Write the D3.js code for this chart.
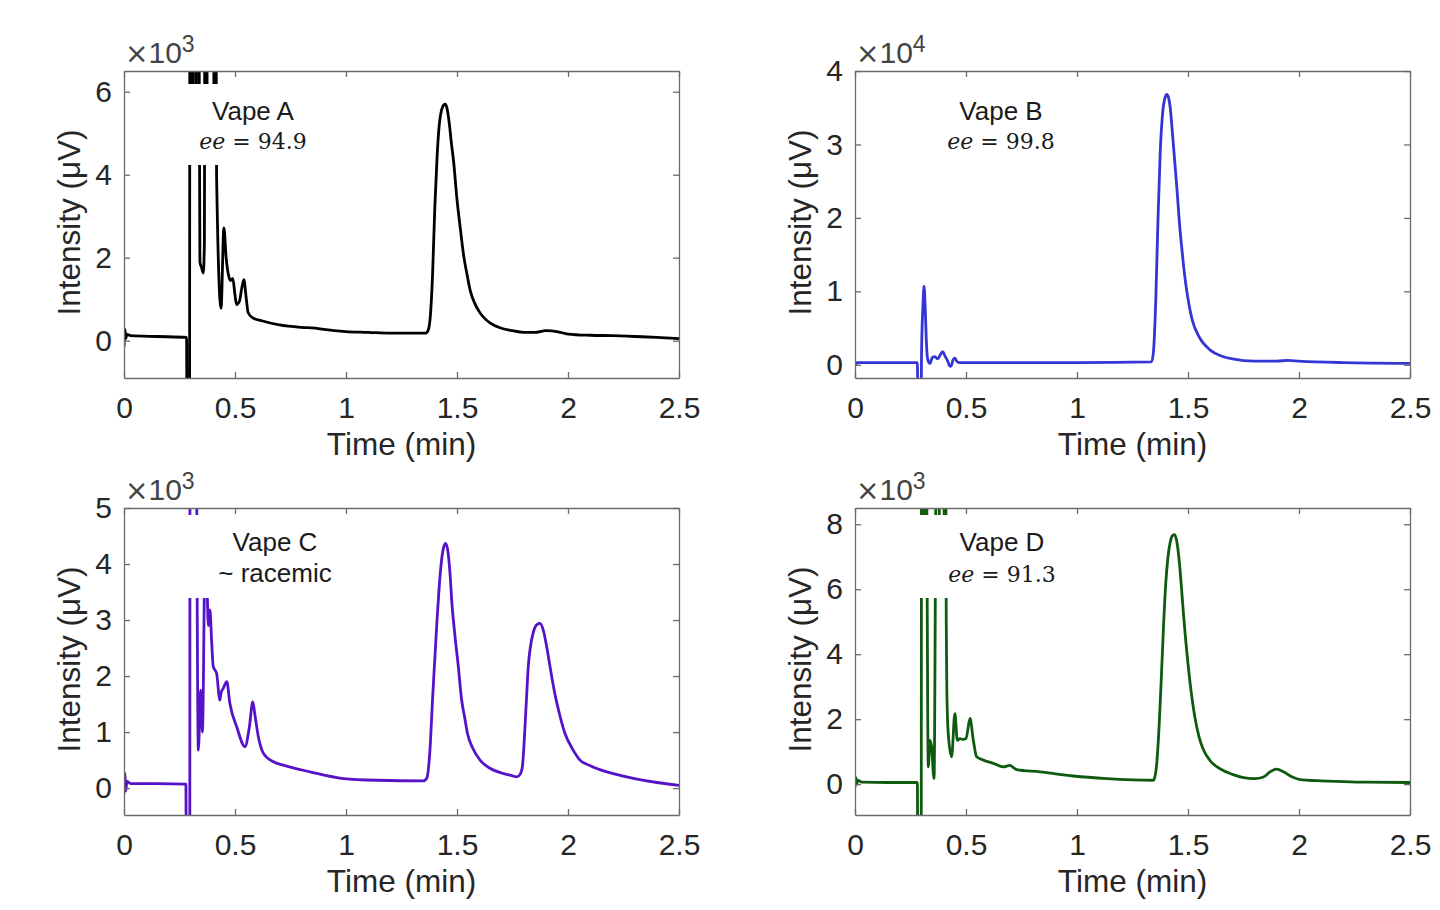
<!DOCTYPE html>
<html><head><meta charset="utf-8">
<script src="https://cdn.jsdelivr.net/npm/d3@7"></script>
<style>
body{margin:0;background:#fff;}
svg text{font-family:"Liberation Sans",Arial,Helvetica,sans-serif;}
</style>
</head><body>
<svg id="c" width="1440" height="910"></svg>
<script>
// ---------- data ----------
const xTicks = [0, 0.5, 1, 1.5, 2, 2.5];
const xTickLabels = ["0", "0.5", "1", "1.5", "2", "2.5"];

const yTicksA = [0, 2, 4, 6];
const yTicksB = [0, 1, 2, 3, 4];
const yTicksC = [0, 1, 2, 3, 4, 5];
const yTicksD = [0, 2, 4, 6, 8];

// Vape A (x10^3 µV)
const vapeA_t = [0,0.004,0.008,0.013,0.03,0.15,0.282,0.284,0.295,0.297,0.303,0.306,0.31,0.313,0.322,0.325,0.329,0.335,0.342,0.35,0.357,0.362,0.365,0.372,0.375,0.404,0.407,0.412,0.417,0.437,0.45,0.46,0.47,0.48,0.49,0.5,0.507,0.52,0.53,0.54,0.55,0.559,0.58,0.62,0.7,0.8,0.86,0.9,1.0,1.1,1.2,1.36,1.37,1.38,1.39,1.40,1.41,1.42,1.43,1.44,1.447,1.455,1.465,1.475,1.485,1.5,1.515,1.53,1.545,1.56,1.58,1.6,1.65,1.7,1.75,1.8,1.85,1.9,1.95,2.0,2.1,2.2,2.3,2.4,2.5];
const vapeA_v = [-0.15,0.27,0.05,0.15,0.12,0.1,0.08,-3,-3,12,12,5,5,12,12,5.2,12,12,1.9,1.75,1.63,2.3,12,12,5,5,12,12,4.0,0.78,2.72,2.0,1.6,1.45,1.5,1.1,0.87,0.95,1.25,1.47,1.05,0.68,0.55,0.48,0.38,0.32,0.3,0.27,0.22,0.2,0.18,0.18,0.25,0.6,1.6,3.2,4.4,5.2,5.55,5.68,5.7,5.6,5.25,4.75,4.3,3.4,2.7,2.05,1.6,1.2,0.9,0.7,0.42,0.3,0.24,0.2,0.2,0.24,0.22,0.16,0.13,0.12,0.1,0.08,0.05];

// Vape B (x10^4 µV)
const vapeB_t = [0,0.004,0.008,0.05,0.281,0.283,0.298,0.3,0.306,0.311,0.316,0.321,0.326,0.333,0.338,0.348,0.36,0.373,0.385,0.395,0.405,0.416,0.428,0.434,0.442,0.45,0.458,0.47,0.6,1.0,1.336,1.345,1.355,1.365,1.375,1.385,1.395,1.405,1.415,1.42,1.43,1.441,1.45,1.464,1.47,1.48,1.49,1.5,1.52,1.55,1.6,1.65,1.7,1.8,1.9,1.95,2.0,2.2,2.5];
const vapeB_v = [0.01,0.0,0.03,0.03,0.03,-0.4,-0.4,0.2,0.8,1.07,0.8,0.35,0.1,0.03,0.02,0.1,0.11,0.08,0.14,0.18,0.12,0.06,-0.02,-0.01,0.07,0.09,0.05,0.03,0.03,0.03,0.04,0.2,0.9,2.0,2.9,3.4,3.62,3.68,3.6,3.5,3.15,2.74,2.4,1.84,1.65,1.35,1.1,0.9,0.6,0.38,0.2,0.12,0.08,0.05,0.05,0.06,0.05,0.03,0.02];

// Vape C (x10^3 µV)
const vapeC_t = [0,0.004,0.008,0.013,0.03,0.15,0.279,0.281,0.296,0.298,0.318,0.335,0.345,0.353,0.358,0.362,0.368,0.374,0.38,0.387,0.395,0.402,0.417,0.432,0.437,0.447,0.463,0.477,0.508,0.545,0.565,0.58,0.59,0.605,0.628,0.673,0.718,0.838,0.988,1.138,1.348,1.363,1.37,1.38,1.39,1.40,1.41,1.42,1.43,1.44,1.449,1.46,1.47,1.476,1.49,1.506,1.52,1.535,1.547,1.57,1.604,1.65,1.7,1.75,1.77,1.785,1.795,1.805,1.815,1.821,1.83,1.845,1.86,1.874,1.89,1.905,1.919,1.94,1.96,1.986,2.02,2.054,2.1,2.15,2.204,2.3,2.4,2.5];
const vapeC_v = [-0.1,0.27,-0.05,0.12,0.08,0.08,0.07,-3,-3,12,12,0.68,1.75,1.0,2.0,3.6,4.1,3.6,2.9,3.18,2.6,2.17,2.05,1.57,1.7,1.78,1.9,1.51,1.09,0.74,1.1,1.54,1.3,0.92,0.62,0.47,0.41,0.29,0.17,0.14,0.13,0.17,0.3,0.8,1.6,2.3,3.0,3.6,4.05,4.3,4.37,4.2,3.75,3.36,2.75,2.17,1.6,1.25,0.98,0.72,0.5,0.35,0.27,0.22,0.2,0.25,0.4,1.0,1.75,2.17,2.5,2.8,2.92,2.94,2.8,2.5,2.17,1.7,1.35,0.98,0.7,0.5,0.4,0.32,0.26,0.17,0.1,0.05];

// Vape D (x10^3 µV)
const vapeD_t = [0,0.004,0.008,0.012,0.03,0.15,0.281,0.283,0.298,0.3,0.305,0.308,0.312,0.315,0.32,0.33,0.338,0.345,0.356,0.368,0.376,0.382,0.4,0.404,0.408,0.411,0.414,0.42,0.435,0.45,0.461,0.473,0.485,0.5,0.518,0.533,0.548,0.578,0.623,0.668,0.698,0.715,0.728,0.833,0.983,1.134,1.344,1.35,1.36,1.37,1.38,1.39,1.40,1.41,1.42,1.43,1.44,1.45,1.46,1.47,1.48,1.49,1.5,1.515,1.53,1.55,1.57,1.6,1.65,1.7,1.75,1.8,1.84,1.87,1.9,1.93,1.97,2.0,2.1,2.2,2.3,2.5];
const vapeD_v = [-0.1,0.2,0.0,0.12,0.06,0.05,0.05,-3,-3,12,12,6.5,6.5,12,12,0.53,1.35,1.15,0.17,12,12,6.5,6.5,12,12,5.0,2.8,1.56,0.84,2.17,1.35,1.4,1.38,1.4,2.02,1.35,0.84,0.74,0.64,0.53,0.58,0.5,0.45,0.38,0.25,0.17,0.12,0.2,0.7,1.8,3.3,4.9,6.2,7.0,7.45,7.65,7.68,7.45,6.9,6.1,5.2,4.4,3.7,2.8,2.1,1.45,1.05,0.72,0.45,0.3,0.2,0.17,0.22,0.38,0.46,0.38,0.22,0.15,0.1,0.08,0.06,0.05];

// ---------- layout / style ----------
const W = 555, H = 307;
const panels = [
  {id:"A", t:vapeA_t, v:vapeA_v, yDomain:[-0.9,6.5], yTicks:yTicksA, exp:"3", color:"#000000",
   left:124, top:71, title:"Vape A", sub:["ee","= 94.9"], labelDx:129, l1:40, l2:70},
  {id:"B", t:vapeB_t, v:vapeB_v, yDomain:[-0.18,4], yTicks:yTicksB, exp:"4", color:"#3535d6",
   left:855, top:71, title:"Vape B", sub:["ee","= 99.8"], labelDx:146, l1:40, l2:70},
  {id:"C", t:vapeC_t, v:vapeC_v, yDomain:[-0.48,5], yTicks:yTicksC, exp:"3", color:"#5512c8",
   left:124, top:508, title:"Vape C", sub:[null,"~ racemic"], labelDx:151, l1:34, l2:66},
  {id:"D", t:vapeD_t, v:vapeD_v, yDomain:[-0.95,8.5], yTicks:yTicksD, exp:"3", color:"#0e5a0e",
   left:855, top:508, title:"Vape D", sub:["ee","= 91.3"], labelDx:147, l1:34, l2:66}
];
const axisColor = "#6b6b6b", textColor = "#262626", FS = 30, LFS = 31.5;

const svg = d3.select("#c");

panels.forEach(p => {
  const x = d3.scaleLinear().domain([0, 2.5]).range([0, W]);
  const y = d3.scaleLinear().domain(p.yDomain).range([H, 0]);
  const g = svg.append("g").attr("transform", `translate(${p.left},${p.top})`);

  const clipId = "clip" + p.id;
  g.append("clipPath").attr("id", clipId)
    .append("rect").attr("width", W).attr("height", H);

  const data = p.t.map((t, i) => [t, p.v[i]]);
  g.append("path").datum(data)
    .attr("clip-path", `url(#${clipId})`)
    .attr("fill", "none")
    .attr("stroke", p.color)
    .attr("stroke-width", 2.8)
    .attr("stroke-linejoin", "round")
    .attr("d", d3.line().curve(d3.curveMonotoneX).x(d => x(d[0])).y(d => y(d[1])));

  // annotation with white background
  const cx = p.labelDx;
  g.append("rect")
    .attr("x", cx - 90).attr("width", 180)
    .attr("y", p.l1 - 27).attr("height", (p.l2 + 24) - (p.l1 - 27))
    .attr("fill", "#fff");
  g.append("text").attr("x", cx).attr("y", p.l1 + 9)
    .attr("text-anchor", "middle").attr("font-size", 26).attr("fill", "#1a1a1a")
    .text(p.title);
  if (p.sub[0]) {
    const t2 = g.append("text").attr("x", cx).attr("y", p.l2 + 8)
      .attr("text-anchor", "middle").attr("font-size", 22).attr("fill", "#1a1a1a")
      .style("font-family", "'DejaVu Serif','Liberation Serif',serif");
    t2.append("tspan").attr("font-style", "italic").text(p.sub[0]);
    t2.append("tspan").text(" " + p.sub[1]);
  } else {
    g.append("text").attr("x", cx).attr("y", p.l2 + 8)
      .attr("text-anchor", "middle").attr("font-size", 26).attr("fill", "#1a1a1a")
      .text(p.sub[1]);
  }

  // axes
  const styleAxis = sel => {
    sel.selectAll("path.domain").attr("stroke", axisColor).attr("stroke-width", 1.3);
    sel.selectAll(".tick line").attr("stroke", axisColor).attr("stroke-width", 1.3);
    sel.selectAll(".tick text").attr("fill", textColor).attr("font-size", FS)
      .style("font-family", "'Liberation Sans',Arial,sans-serif");
  };
  g.append("g").attr("transform", `translate(0,${H})`)
    .call(d3.axisBottom(x).tickValues(xTicks).tickFormat((d, i) => xTickLabels[i])
      .tickSize(-6).tickSizeOuter(0).tickPadding(19))
    .call(styleAxis);
  g.append("g")
    .call(d3.axisTop(x).tickValues(xTicks).tickFormat("").tickSize(-6).tickSizeOuter(0))
    .call(styleAxis);
  g.append("g")
    .call(d3.axisLeft(y).tickValues(p.yTicks).tickFormat(d3.format("d"))
      .tickSize(-6).tickSizeOuter(0).tickPadding(12))
    .call(styleAxis);
  g.append("g").attr("transform", `translate(${W},0)`)
    .call(d3.axisRight(y).tickValues(p.yTicks).tickFormat("").tickSize(-6).tickSizeOuter(0))
    .call(styleAxis);

  // exponent label
  const ex = g.append("text").attr("x", 1).attr("y", -8)
    .attr("font-size", 30).attr("fill", "#444");
  ex.append("tspan").style("font-family", "'DejaVu Sans',sans-serif").attr("font-size", 28).text("\u00D7");
  ex.append("tspan").text("10");
  ex.append("tspan").attr("font-size", 23).attr("dy", -11).text(p.exp);

  // axis titles
  g.append("text").attr("x", W / 2).attr("y", H + 77)
    .attr("text-anchor", "middle").attr("font-size", LFS).attr("fill", textColor)
    .text("Time (min)");
  g.append("text")
    .attr("transform", `translate(-44,${H / 2 - 2}) rotate(-90)`)
    .attr("text-anchor", "middle").attr("font-size", LFS).attr("fill", textColor)
    .text("Intensity (\u03BCV)");
});
</script>
</body></html>
